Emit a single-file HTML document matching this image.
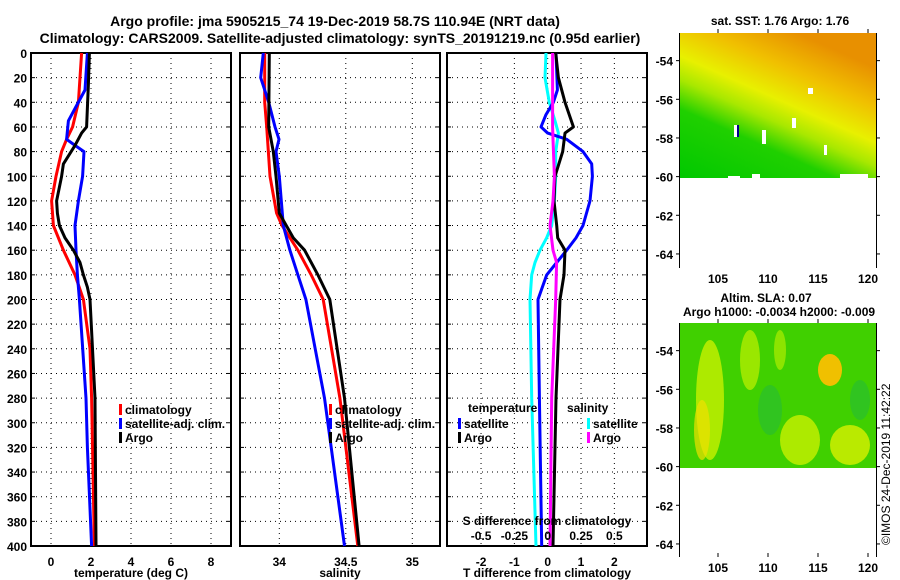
<!DOCTYPE html>
<html><head><meta charset="utf-8"><style>
body{margin:0;background:#fff;}
svg{display:block;font-family:"Liberation Sans",sans-serif;font-weight:bold;}
</style></head><body>
<svg id="c" width="900" height="580" viewBox="0 0 900 580">
<defs>
<linearGradient id="sstg" x1="0" y1="1" x2="0.6" y2="0">
<stop offset="0" stop-color="#00c800"/><stop offset="0.35" stop-color="#20d000"/><stop offset="0.5" stop-color="#a8e800"/><stop offset="0.62" stop-color="#e8f000"/><stop offset="0.8" stop-color="#f0c000"/><stop offset="1" stop-color="#e89000"/>
</linearGradient>
</defs>
<text x="335" y="26" font-size="14" text-anchor="middle">Argo profile: jma 5905215_74 19-Dec-2019 58.7S 110.94E (NRT data)</text>
<text x="340" y="43" font-size="14" text-anchor="middle">Climatology: CARS2009. Satellite-adjusted climatology: synTS_20191219.nc (0.95d earlier)</text>
<g id="g"></g>
<!-- SST map -->
<g>
<rect x="680" y="33" width="196" height="145" fill="url(#sstg)"/>
<rect x="680" y="178" width="196" height="90" fill="#fff"/>
<rect x="728" y="176" width="12" height="4" fill="#fff"/><rect x="752" y="174" width="8" height="4" fill="#fff"/><rect x="840" y="174" width="28" height="4" fill="#fff"/>
<rect x="734" y="125" width="3" height="12" fill="#fff"/><rect x="737" y="125" width="2" height="12" fill="#00008b"/>
<rect x="808" y="88" width="5" height="6" fill="#fff"/><rect x="792" y="118" width="4" height="10" fill="#fff"/>
<rect x="762" y="130" width="4" height="14" fill="#fff"/><rect x="824" y="145" width="3" height="10" fill="#fff"/>
<text x="780" y="25" font-size="12" text-anchor="middle">sat. SST: 1.76 Argo: 1.76</text>
</g>
<g>
<rect x="680" y="323" width="196" height="145" fill="#40d000"/>
<ellipse cx="710" cy="400" rx="14" ry="60" fill="#c8f000" opacity="0.8"/>
<ellipse cx="702" cy="430" rx="8" ry="30" fill="#f0e000" opacity="0.7"/>
<ellipse cx="830" cy="370" rx="12" ry="16" fill="#f0c000"/>
<ellipse cx="750" cy="360" rx="10" ry="30" fill="#b0ec00" opacity="0.8"/>
<ellipse cx="800" cy="440" rx="20" ry="25" fill="#c8f000" opacity="0.8"/>
<ellipse cx="850" cy="445" rx="20" ry="20" fill="#d8f000" opacity="0.8"/>
<ellipse cx="780" cy="350" rx="6" ry="20" fill="#a0e800" opacity="0.8"/>
<ellipse cx="770" cy="410" rx="12" ry="25" fill="#20b840" opacity="0.5"/>
<ellipse cx="860" cy="400" rx="10" ry="20" fill="#20b840" opacity="0.5"/>
<text x="766" y="302" font-size="12" text-anchor="middle">Altim. SLA: 0.07</text>
<text x="779" y="316" font-size="12" text-anchor="middle">Argo h1000: -0.0034 h2000: -0.009</text>
</g>
<text transform="translate(890,545) rotate(-90)" font-size="12" font-weight="normal">©IMOS 24-Dec-2019 11:42:22</text>
</svg>
<script>
const depths=[0,20,40,60,80,100,120,140,160,180,200,220,240,260,280,300,320,340,360,380,400];
const depthTicks=[0,20,40,60,80,100,120,140,160,180,200,220,240,260,280,300,320,340,360,380,400];
const tDepth=[0,40,60,70,80,100,120,140,160,180,200,240,280,400];
const tClim=[1.53,1.37,1.08,0.78,0.53,0.25,0.03,0.12,0.62,1.2,1.62,1.95,2.03,2.17];
const aDepthT=[0,25,60,65,75,90,100,120,130,140,150,160,170,180,190,200,280,400];
const tArgo=[1.92,1.87,1.78,1.53,1.2,0.62,0.53,0.28,0.32,0.42,0.7,1.12,1.45,1.62,1.82,1.95,2.2,2.25];
const sDepthT=[0,30,45,55,70,75,80,100,120,140,160,180,200,280,320,400];
const tSat=[1.82,1.7,1.2,0.87,0.78,1.2,1.65,1.58,1.37,1.2,1.25,1.32,1.42,1.75,1.82,2.03];
const salDepth=[0,40,60,100,130,140,160,180,200,280,400];
const sClim=[33.89,33.89,33.905,33.93,33.98,34.02,34.14,34.24,34.33,34.456,34.59];
const salDepthA=[0,60,80,100,130,150,160,180,200,280,400];
const sArgo=[33.925,33.92,33.955,33.975,34.0,34.105,34.19,34.29,34.38,34.49,34.6];
const salDepthS=[0,20,40,60,70,80,100,140,160,180,200,280,320,400];
const sSat=[33.88,33.86,33.92,33.968,33.998,33.975,34.0,34.03,34.08,34.14,34.2,34.34,34.39,34.49];
const dDepthA=[0,20,40,60,65,80,100,120,140,150,160,180,200,280,400];
const dTArgo=[0.24,0.32,0.52,0.77,0.52,0.45,0.22,0.19,0.27,0.3,0.52,0.49,0.37,0.25,0.16];
const dDepthS=[0,30,40,50,60,65,70,80,90,100,120,140,150,160,170,180,200,280,400];
const dTSat=[0.25,0.29,0.17,-0.05,-0.2,0.0,0.57,1.06,1.32,1.34,1.27,1.06,0.85,0.57,0.27,-0.03,-0.29,-0.25,-0.18];
const dDepthC=[0,20,40,55,65,80,100,120,140,150,160,170,180,200,280,400];
const dSSat=[-0.013,-0.02,0.012,0.055,0.08,0.06,0.06,0.05,0.03,-0.008,-0.058,-0.095,-0.12,-0.133,-0.12,-0.088];
const dDepthM=[0,60,70,100,120,140,160,170,200,280,400];
const dSArgo=[0.037,0.037,0.04,0.05,0.04,0.017,0.04,0.067,0.06,0.03,0.017];
const tTicks=[0,2,4,6,8];
const sTicks=[34,34.5,35];
const dTicks=[-2,-1,0,1,2];
const dsTicks=[-0.5,-0.25,0,0.25,0.5];
const latTicks=[-54,-56,-58,-60,-62,-64];
const lonTicks=[105,110,115,120];

const NS='http://www.w3.org/2000/svg';
const g=document.getElementById('g');
function el(t,a,p){const e=document.createElementNS(NS,t);for(const k in a)e.setAttribute(k,a[k]);(p||g).appendChild(e);return e;}
function txt(x,y,s,sz,anc,p){const e=el('text',{x:x,y:y,'font-size':sz,'text-anchor':anc||'middle'},p);e.textContent=s;return e;}
const Y=d=>53+d*(493/400);
function panel(x0,w,xs,ticks,name,label){
  const pg=el('g',{});
  
  
  depthTicks.forEach(d=>{if(d>0&&d<400)el('line',{x1:x0,x2:x0+w,y1:Y(d),y2:Y(d),stroke:'#000','stroke-dasharray':'1 4','stroke-width':1},pg);
    el('line',{x1:x0,x2:x0+4,y1:Y(d),y2:Y(d),stroke:'#000'},pg);el('line',{x1:x0+w-4,x2:x0+w,y1:Y(d),y2:Y(d),stroke:'#000'},pg);});
  ticks.forEach(t=>{el('line',{x1:xs(t),x2:xs(t),y1:Y(0),y2:Y(400),stroke:'#000','stroke-dasharray':'1 4'},pg);
    const tl=txt(xs(t),566,String(t),12,'middle',pg);});
  el('rect',{x:x0,y:Y(0),width:w,height:493,fill:'none',stroke:'#000','stroke-width':2},pg);
  const xl=txt(x0+w/2,577,label,12,'middle',pg);
  
  
  return pg;
}
function line(xs,ds,vs,col,name,p){
  const pts=ds.map((d,i)=>xs(vs[i]).toFixed(1)+','+Y(d).toFixed(1)).join(' ');
  const e=el('polyline',{points:pts,fill:'none',stroke:col,'stroke-width':3,'stroke-linejoin':'round'},p);
  
  
}
function leg(x,y,col,label,p){const m=el('rect',{x:x,y:y-10,width:3,height:11,fill:col},p);
  const t=txt(x+6,y,label,12,'start',p);}

// depth labels
depthTicks.forEach(d=>{const t=txt(27,Y(d)+5,String(d),12,'end');});

const xT=v=>51+v*20;
const p1=panel(31,200,xT,tTicks,'temperature-panel','temperature (deg C)');
line(xT,tDepth,tClim,'#f00','temp-climatology-line',p1);
line(xT,sDepthT,tSat,'#00f','temp-satellite-line',p1);
line(xT,aDepthT,tArgo,'#000','temp-argo-line',p1);
leg(119,414,'#f00','climatology',p1);leg(119,428,'#00f','satellite-adj. clim.',p1);leg(119,442,'#000','Argo',p1);

const xS=v=>279.3+(v-34)*133;
const p2=panel(240,200,xS,sTicks,'salinity-panel','salinity');
line(xS,salDepth,sClim,'#f00','sal-climatology-line',p2);
line(xS,salDepthS,sSat,'#00f','sal-satellite-line',p2);
line(xS,salDepthA,sArgo,'#000','sal-argo-line',p2);
leg(329,414,'#f00','climatology',p2);leg(329,428,'#00f','satellite-adj. clim.',p2);leg(329,442,'#000','Argo',p2);

const xD=v=>547.7+v*33.33;
const xDS=v=>547.7+v*133.3;
const p3=panel(447,200,xD,dTicks,'difference-panel','T difference from climatology');
line(xDS,dDepthC,dSSat,'#0ff','sal-diff-satellite-line',p3);
line(xD,dDepthS,dTSat,'#00f','temp-diff-satellite-line',p3);
line(xD,dDepthA,dTArgo,'#000','temp-diff-argo-line',p3);
line(xDS,dDepthM,dSArgo,'#f0f','sal-diff-argo-line',p3);
txt(468,412,'temperature',12,'start',p3);txt(567,412,'salinity',12,'start',p3);
leg(458,428,'#00f','satellite',p3);leg(458,442,'#000','Argo',p3);leg(587,428,'#0ff','satellite',p3);leg(587,442,'#f0f','Argo',p3);
txt(547,525,'S difference from climatology',12,'middle',p3);
dsTicks.forEach(t=>{const e=txt(xDS(t),540,String(t),12,'middle',p3);});

// map axes
function mapAxes(top,latTop,bottom,name){
  const ag=el('g',{});
  
  
  const yy=l=>top+(latTop-l)*19.33;
  const xx=l=>718+(l-105)*10;
  el('line',{x1:679.5,x2:679.5,y1:top,y2:bottom,stroke:'#000'},ag);
  el('line',{x1:876.5,x2:876.5,y1:top,y2:bottom,stroke:'#000'},ag);
  latTicks.forEach(l=>{el('line',{x1:676,x2:680,y1:yy(l),y2:yy(l),stroke:'#000'},ag);el('line',{x1:876,x2:880,y1:yy(l),y2:yy(l),stroke:'#000'},ag);
    const t=txt(673,yy(l)+5,String(l),12,'end',ag);});
  lonTicks.forEach(l=>{el('line',{x1:xx(l),x2:xx(l),y1:bottom-4,y2:bottom,stroke:'#000'},ag);el('line',{x1:xx(l),x2:xx(l),y1:top-4,y2:top,stroke:'#000'},ag);
    const t=txt(xx(l),bottom+15,String(l),12,'middle',ag);});
}
mapAxes(33,-52.57,268,'sst-map-axes');
mapAxes(323,-52.57,557,'sla-map-axes');
</script>
</body></html>
